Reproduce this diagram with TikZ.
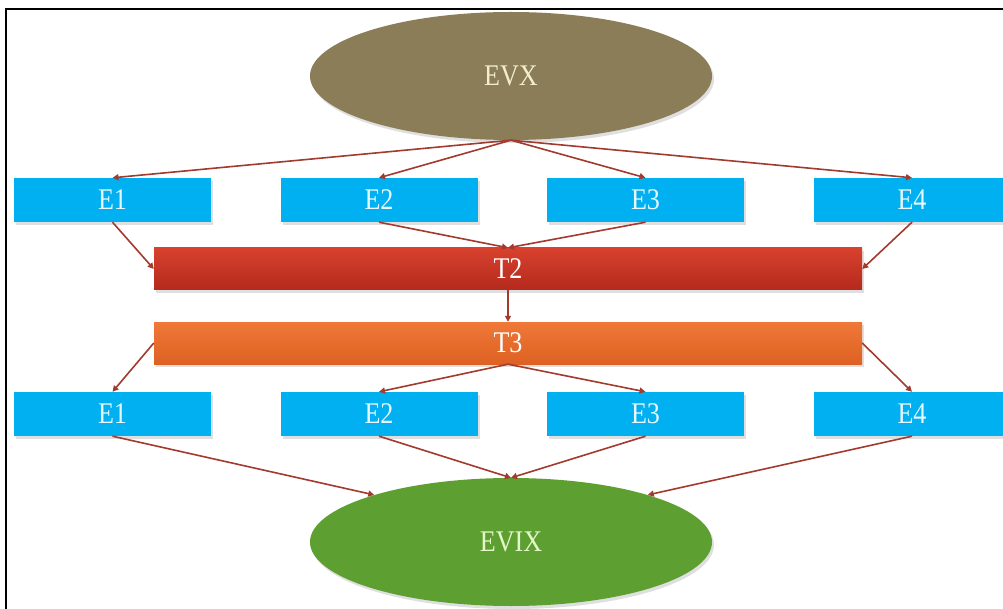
\documentclass[tikz,border=0pt]{standalone}
\usepackage{fontspec}
\setmainfont{Liberation Serif}[FakeStretch=0.87]
\usetikzlibrary{shapes.geometric,shadows,arrows.meta}
\definecolor{evxc}{HTML}{8A7D57}
\definecolor{evixc}{HTML}{5E9F32}
\definecolor{boxc}{HTML}{00B0F0}
\definecolor{t2top}{HTML}{D8412E}
\definecolor{t2bot}{HTML}{B42A1C}
\definecolor{t3top}{HTML}{F07838}
\definecolor{t3bot}{HTML}{DD6122}
\definecolor{arrc}{HTML}{A33A2E}
\definecolor{evxtext}{HTML}{F2EDCF}
\definecolor{evixtext}{HTML}{E4F7C8}
\definecolor{boxtext}{HTML}{E8F8FF}
\begin{document}
\begin{tikzpicture}[x=1pt,y=-1pt,
  ell/.style={ellipse,minimum width=402pt,minimum height=128pt,inner sep=0pt,
    font=\fontsize{30}{32}\selectfont,
    drop shadow={opacity=0.25,shadow xshift=2pt,shadow yshift=-3pt}},
  ebox/.style={rectangle,fill=boxc,minimum width=197pt,minimum height=44pt,inner sep=0pt,
    text=boxtext,font=\fontsize{30}{32}\selectfont,
    drop shadow={opacity=0.25,shadow xshift=2pt,shadow yshift=-3pt}},
  tbar/.style={rectangle,minimum width=708pt,minimum height=42pt,inner sep=0pt,
    text=white,font=\fontsize{30}{32}\selectfont,
    drop shadow={opacity=0.25,shadow xshift=2pt,shadow yshift=-3pt}},
  conn/.style={draw=arrc,line width=1.6pt,-{Triangle[length=6pt,width=6pt]}}]
\useasboundingbox (0,0) rectangle (1003,609);
\fill[white] (0,0) rectangle (1003,609);
\draw[black,line width=1.5pt] (6,609) -- (6,9) -- (1003,9);
% ellipses
\node[ell,fill=evxc,text=evxtext] (evx) at (511,76) {EVX};
\node[ell,fill=evixc,text=evixtext] (evix) at (511,542) {EVIX};
% top row
\node[ebox] (a1) at (112.5,200) {E1};
\node[ebox] (a2) at (379,200) {E2};
\node[ebox] (a3) at (645.5,200) {E3};
\node[ebox] (a4) at (912,200) {E4};
% bars
\node[tbar,top color=t2top,bottom color=t2bot] (t2) at (508,269) {T2};
\node[tbar,top color=t3top,bottom color=t3bot] (t3) at (508,343) {T3};
% bottom row
\node[ebox] (b1) at (112.5,414) {E1};
\node[ebox] (b2) at (379,414) {E2};
\node[ebox] (b3) at (645.5,414) {E3};
\node[ebox] (b4) at (912,414) {E4};
% connectors
\draw[conn] (evx.south) -- (a1.north);
\draw[conn] (evx.south) -- (a2.north);
\draw[conn] (evx.south) -- (a3.north);
\draw[conn] (evx.south) -- (a4.north);
\draw[conn] (a1.south) -- (t2.west);
\draw[conn] (a2.south) -- (t2.north);
\draw[conn] (a3.south) -- (t2.north);
\draw[conn] (a4.south) -- (t2.east);
\draw[conn] (t2.south) -- (t3.north);
\draw[conn] (t3.west) -- (b1.north);
\draw[conn] (t3.south) -- (b2.north);
\draw[conn] (t3.south) -- (b3.north);
\draw[conn] (t3.east) -- (b4.north);
\draw[conn] (b1.south) -- (evix.161);
\draw[conn] (b2.south) -- (evix.north);
\draw[conn] (b3.south) -- (evix.north);
\draw[conn] (b4.south) -- (evix.19);
\end{tikzpicture}
\end{document}
